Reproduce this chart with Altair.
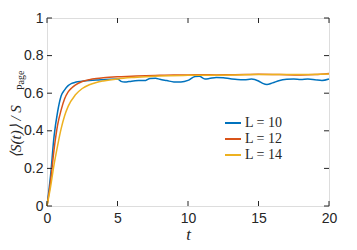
import altair as alt
import pandas as pd

# ---- data ----
series_names = ["L = 10", "L = 12", "L = 14"]
series_colors = ["#0072BD", "#D95319", "#EDB120"]

t_L10 = [0, 0.25, 0.5, 0.75, 1, 1.25, 1.5, 1.75, 2, 2.5, 3, 3.5, 4, 4.5, 5, 5.25, 5.5,
         6, 6.5, 7, 7.3, 7.7, 8, 8.5, 9, 9.5, 10, 10.5, 10.8, 11.2, 11.5, 12, 12.5, 13,
         13.5, 14, 14.5, 15, 15.3, 15.6, 16, 16.5, 17, 17.5, 18, 18.5, 19, 19.5, 20]
S_L10 = [0, 0.16, 0.37, 0.5, 0.585, 0.618, 0.64, 0.652, 0.658, 0.663, 0.667, 0.670, 0.672,
         0.674, 0.675, 0.663, 0.659, 0.664, 0.667, 0.668, 0.678, 0.679, 0.674, 0.667, 0.660,
         0.660, 0.668, 0.689, 0.690, 0.676, 0.678, 0.684, 0.682, 0.677, 0.673, 0.672, 0.675,
         0.665, 0.652, 0.646, 0.655, 0.668, 0.674, 0.676, 0.673, 0.675, 0.672, 0.668, 0.676]

t_L12 = [0, 0.25, 0.5, 0.75, 1, 1.25, 1.5, 1.75, 2, 2.5, 3, 3.5, 4, 5, 6, 7, 8, 9, 10,
         11, 12, 13, 14, 15, 16, 17, 18, 19, 20]
S_L12 = [0, 0.13, 0.3, 0.43, 0.51, 0.57, 0.607, 0.628, 0.643, 0.662, 0.672, 0.678, 0.682,
         0.687, 0.690, 0.693, 0.695, 0.697, 0.697, 0.698, 0.697, 0.698, 0.699, 0.701, 0.700,
         0.698, 0.697, 0.699, 0.705]

t_L14 = [0, 0.25, 0.5, 0.75, 1, 1.25, 1.5, 2, 2.5, 3, 3.5, 4, 5, 6, 7, 8, 10, 12, 14,
         16, 18, 20]
S_L14 = [0, 0.1, 0.22, 0.32, 0.41, 0.48, 0.53, 0.59, 0.625, 0.645, 0.657, 0.665, 0.676,
         0.683, 0.688, 0.692, 0.695, 0.696, 0.698, 0.700, 0.699, 0.702]

x_ticks = [0, 5, 10, 15, 20]
y_ticks = [0, 0.2, 0.4, 0.6, 0.8, 1]

y_title_main = "⟨S(t)⟩ / S"
y_title_sub = "Page"
x_title = "t"

# ---- build tables ----
rows = []
for name, ts, ss in zip(series_names, [t_L10, t_L12, t_L14], [S_L10, S_L12, S_L14]):
    for t, s in zip(ts, ss):
        rows.append({"t": t, "S": s, "series": name})
df = pd.DataFrame(rows)
xt = pd.DataFrame({"v": x_ticks})
yt = pd.DataFrame({"v": y_ticks})

W, H = 282, 188
INK = "#262626"
TICK = 5
LABEL_FONT = "Liberation Sans"

xscale = alt.Scale(domain=[0, 20], nice=False)
yscale = alt.Scale(domain=[0, 1], nice=False)


def x_axis():
    return alt.Axis(values=x_ticks, title=x_title, tickSize=0, domain=False,
                    grid=False, labelPadding=5, titlePadding=1,
                    labelOverlap=False, labelFlush=False,
                    labelFont=LABEL_FONT, labelFontSize=14, labelColor=INK,
                    titleFont="Liberation Serif", titleFontStyle="italic",
                    titleFontSize=17, titleFontWeight="normal", titleColor=INK)


def y_axis():
    return alt.Axis(values=y_ticks, title=None, format="~g", tickSize=0,
                    domain=False, grid=False, labelPadding=4,
                    labelOverlap=False, labelFlush=False,
                    labelFont=LABEL_FONT, labelFontSize=14, labelColor=INK)


lines = alt.Chart(df).mark_line(strokeWidth=1.5, interpolate="monotone").encode(
    x=alt.X("t:Q", scale=xscale, axis=x_axis()),
    y=alt.Y("S:Q", scale=yscale, axis=y_axis()),
    color=alt.Color("series:N",
                    scale=alt.Scale(domain=series_names, range=series_colors),
                    legend=alt.Legend(title=None, orient="none", legendX=177, legendY=96,
                                      symbolType="stroke", symbolSize=256,
                                      symbolStrokeWidth=2, labelFont="Liberation Serif",
                                      labelFontSize=14, labelColor=INK, rowPadding=0,
                                      labelOffset=3)),
)

xb = alt.Chart(xt).mark_rule(color=INK, strokeWidth=1).encode(
    x=alt.X("v:Q", scale=xscale, axis=x_axis()), y=alt.value(H), y2=alt.value(H - TICK))
xtop = alt.Chart(xt).mark_rule(color=INK, strokeWidth=1).encode(
    x=alt.X("v:Q", scale=xscale, axis=x_axis()), y=alt.value(0), y2=alt.value(TICK))
yl = alt.Chart(yt).mark_rule(color=INK, strokeWidth=1).encode(
    y=alt.Y("v:Q", scale=yscale, axis=y_axis()), x=alt.value(0), x2=alt.value(TICK))
yr = alt.Chart(yt).mark_rule(color=INK, strokeWidth=1).encode(
    y=alt.Y("v:Q", scale=yscale, axis=y_axis()), x=alt.value(W), x2=alt.value(W - TICK))

title_main = alt.Chart(pd.DataFrame({"txt": [y_title_main]})).mark_text(
    angle=270, align="left", baseline="middle", font="Liberation Serif",
    fontStyle="italic", fontSize=15, color=INK
).encode(text="txt:N", x=alt.value(-31), y=alt.value(140))

title_sub = alt.Chart(pd.DataFrame({"txt": [y_title_sub]})).mark_text(
    angle=270, align="left", baseline="middle", font="Liberation Serif",
    fontSize=10, color=INK
).encode(text="txt:N", x=alt.value(-26), y=alt.value(72))

chart = alt.layer(lines, xb, xtop, yl, yr, title_main, title_sub).properties(
    width=W, height=H,
    autosize=alt.AutoSizeParams(type="none"),
    padding={"left": 39, "top": 10, "right": 20, "bottom": 36},
).configure_view(
    stroke=INK, strokeWidth=1
).configure(background="white")

chart.save("out.html", embed_options={"renderer": "svg", "actions": False})
